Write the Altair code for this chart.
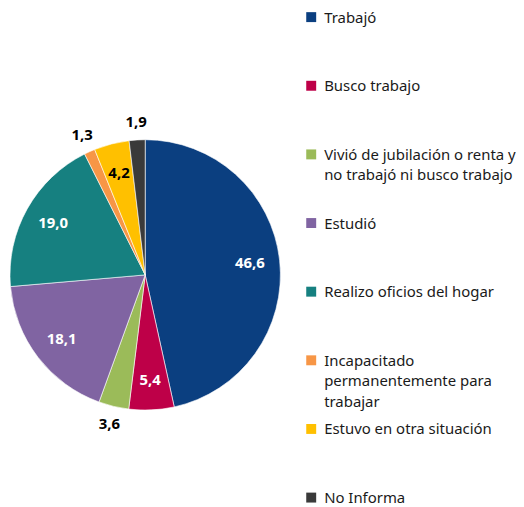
import altair as alt
import pandas as pd

categories = ["Trabajó", "Busco trabajo", "Vivió de jubilación o renta y no trabajó ni busco trabajo",
              "Estudió", "Realizo oficios del hogar", "Incapacitado permanentemente para trabajar",
              "Estuvo en otra situación", "No Informa"]
legend_text = ["Trabajó", "Busco trabajo", "Vivió de jubilación o renta y\nno trabajó ni busco trabajo",
               "Estudió", "Realizo oficios del hogar", "Incapacitado\npermanentemente para\ntrabajar",
               "Estuvo en otra situación", "No Informa"]
values = [46.6, 5.4, 3.6, 18.1, 19.0, 1.3, 4.2, 1.9]
colors = ["#0B3F80", "#BE0048", "#9BBB59", "#8064A2", "#168080", "#F79646", "#FFC000", "#3A3A3A"]

df = pd.DataFrame({
    "category": categories,
    "legend": legend_text,
    "value": values,
    "order": list(range(len(values))),
    "label": [f"{v:.1f}".replace(".", ",") for v in values],
})

FONT = "Noto Sans"
CX, CY = 138, 267

color_enc = alt.Color("category:N", scale=alt.Scale(domain=categories, range=colors), legend=None)
theta_enc = alt.Theta("value:Q", stack=True)
order_enc = alt.Order("order:Q")

base = alt.Chart(df)

arc = base.mark_arc(outerRadius=136, stroke="white", strokeWidth=0.6).encode(
    theta=theta_enc, order=order_enc, color=color_enc,
    x=alt.value(CX), y=alt.value(CY),
)

inner = base.mark_text(radius=106, fontSize=15, fontWeight="bold", font=FONT).encode(
    theta=theta_enc, order=order_enc,
    text=alt.condition("datum.value >= 4", "label:N", alt.value("")),
    color=alt.condition("datum.value < 5", alt.value("black"), alt.value("white")),
    x=alt.value(CX), y=alt.value(CY),
)

outer = base.mark_text(radius=154, fontSize=15, fontWeight="bold", font=FONT, color="black").encode(
    theta=theta_enc, order=order_enc,
    text=alt.condition("datum.value < 4", "label:N", alt.value("")),
    x=alt.value(CX), y=alt.value(CY),
)

yleg = alt.Y("category:N", sort=categories, axis=None,
             scale=alt.Scale(type="point", range=[7.7, 491], padding=0))

squares = base.mark_square(size=100, opacity=1, filled=True).encode(
    x=alt.value(305), y=yleg, color=color_enc,
)

texts = base.mark_text(align="left", baseline="alphabetic", dy=5.5, fontSize=15, font=FONT,
                       lineBreak="\n", lineHeight=20.5, color="#1a1a1a").encode(
    x=alt.value(318), y=yleg, text="legend:N",
)

chart = alt.layer(arc, inner, outer, squares, texts).properties(
    width=508, height=491, padding=0,
).configure_view(stroke=None)

chart.save("out.html", embed_options={"renderer": "svg", "actions": False})
